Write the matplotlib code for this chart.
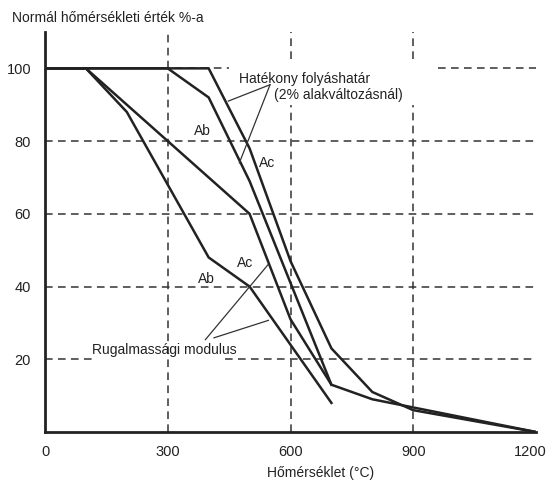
import matplotlib
matplotlib.use("Agg")
import matplotlib.pyplot as plt
from matplotlib.transforms import ScaledTranslation

plt.rcParams['font.family'] = ['Liberation Sans', 'DejaVu Sans']

# ---- data ----
x_ticks = [0, 300, 600, 900, 1200]
y_ticks = [20, 40, 60, 80, 100]

t_ab_yield = [0, 300, 400, 500, 600, 700]
ab_yield = [100, 100, 92, 69, 41, 13]

t_ac_yield = [0, 400, 500, 600, 700, 800, 900, 1000, 1100, 1200]
ac_yield = [100, 100, 78, 47, 23, 11, 6, 4, 2, 0]

t_ac_mod = [0, 100, 500, 600, 700, 800, 900, 1000, 1100, 1200]
ac_mod = [100, 100, 60, 31, 13, 9, 6.75, 4.5, 2.25, 0]

t_ab_mod = [0, 100, 200, 400, 500, 600, 700]
ab_mod = [100, 100, 88, 48, 40, 24, 8]

title_txt = "Normál hőmérsékleti érték %-a"
xlabel_txt = "Hőmérséklet (°C)"
yield_txt1 = "Hatékony folyáshatár"
yield_txt2 = "(2% alakváltozásnál)"
mod_txt = "Rugalmassági modulus"

# ---- figure ----
W, H = 548, 484
fig = plt.figure(figsize=(W / 100, H / 100), dpi=100)
ax = fig.add_axes([45 / W, 52 / H, 491 / W, 400 / H])
ax.set_xlim(0, 1200)
ax.set_ylim(0, 110)

ink = '#222222'
grid_kw = dict(color='#333333', lw=1.1, ls=(0, (5, 3.5)), zorder=1)

# dashed grid (with gaps where the labels sit)
for yv in y_ticks:
    if yv == 100:
        ax.plot([0, 450], [yv, yv], **grid_kw)
        ax.plot([960, 1200], [yv, yv], **grid_kw)
    elif yv == 20:
        ax.plot([0, 122], [yv, yv], **grid_kw)
        ax.plot([440, 1200], [yv, yv], **grid_kw)
    else:
        ax.plot([0, 1200], [yv, yv], **grid_kw)
for xv in x_ticks[1:-1]:
    if xv == 300:
        ax.plot([xv, xv], [0, 110], **grid_kw)
    else:
        ax.plot([xv, xv], [0, 90], **grid_kw)
        ax.plot([xv, xv], [102.5, 110], **grid_kw)

line_kw = dict(color=ink, lw=1.8, zorder=3, solid_joinstyle='miter')
ax.plot(t_ab_yield, ab_yield, **line_kw)
ax.plot(t_ac_yield, ac_yield, **line_kw)
ax.plot(t_ac_mod, ac_mod, **line_kw)
ax.plot(t_ab_mod, ab_mod, **line_kw)

# spines / ticks
for s in ['top', 'right']:
    ax.spines[s].set_visible(False)
for s in ['left', 'bottom']:
    ax.spines[s].set_linewidth(2.0)
    ax.spines[s].set_color(ink)
ax.set_xticks(x_ticks)
ax.set_yticks(y_ticks)
ax.tick_params(length=0, labelsize=10.5, colors=ink)
ax.tick_params(axis='x', pad=9)
ax.tick_params(axis='y', pad=10)
ax.set_xticklabels([str(v) for v in x_ticks])
ax.set_yticklabels([str(v) for v in y_ticks])
last = ax.get_xticklabels()[-1]
last.set_ha('right')
last.set_transform(last.get_transform() + ScaledTranslation(11 / 100, 0, fig.dpi_scale_trans))

# texts
fig.text(12 / W, 1 - 18 / H, title_txt, fontsize=10, color=ink, ha='left', va='center')
fig.text(321 / W, 11 / H, xlabel_txt, fontsize=10, color=ink, ha='center', va='center')

tfs = 10
ax.text(474, 97.2, yield_txt1, fontsize=tfs, color=ink, ha='left', va='center')
ax.text(560, 92.6, yield_txt2, fontsize=tfs, color=ink, ha='left', va='center')
ax.text(114, 22.5, mod_txt, fontsize=tfs, color=ink, ha='left', va='center')
ax.text(385, 82.7, 'Ab', fontsize=tfs, color=ink, ha='center', va='center')
ax.text(543, 74.1, 'Ac', fontsize=tfs, color=ink, ha='center', va='center')
ax.text(488, 46.5, 'Ac', fontsize=tfs, color=ink, ha='center', va='center')
ax.text(394, 42.0, 'Ab', fontsize=tfs, color=ink, ha='center', va='center')

# leader lines
lead_kw = dict(color='#333333', lw=0.9, zorder=4)
ax.plot([550, 448], [95.5, 91], **lead_kw)
ax.plot([550, 475], [95.5, 74], **lead_kw)
ax.plot([392, 545], [25.4, 46], **lead_kw)
ax.plot([413, 546], [25.9, 30.7], **lead_kw)

fig.savefig('out.png', dpi=100)
